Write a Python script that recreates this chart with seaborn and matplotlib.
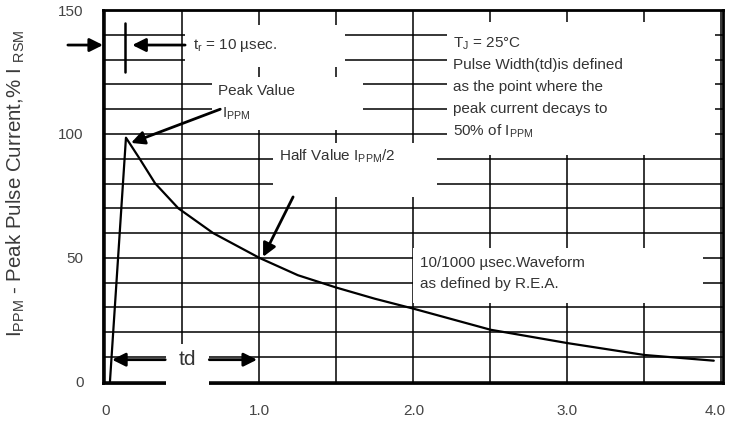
import matplotlib.pyplot as plt
import seaborn as sns
import pandas as pd
from matplotlib.patches import Rectangle
from matplotlib.transforms import ScaledTranslation

# 10/1000 usec pulse waveform
time_ms = [0.03, 0.134, 0.221, 0.323, 0.474, 0.70, 1.0, 1.25, 1.5, 1.75, 2.0, 2.5, 3.0, 3.5, 3.95]
current_pct = [0, 98.5, 90.2, 80.1, 70, 60, 50, 43, 38, 33.5, 29.5, 21, 15.6, 10.8, 8.5]

x_ticks = [0, 1, 2, 3, 4]
x_labels = ['0', '1.0', '2.0', '3.0', '4.0']
y_ticks = [0, 50, 100, 150]
y_labels = ['0', '50', '100', '150']


def make_pulse_chart():
    sns.set_style('white')
    plt.rcParams['font.family'] = ['Liberation Sans', 'DejaVu Sans']
    plt.rcParams['mathtext.fontset'] = 'custom'
    plt.rcParams['mathtext.rm'] = 'Liberation Sans'

    df = pd.DataFrame({'t': time_ms, 'i': current_pct})

    fig, ax = plt.subplots(figsize=(7.29, 4.21), dpi=100)
    fig.subplots_adjust(left=0.1413, right=0.9918, top=0.976, bottom=0.0903)

    sns.lineplot(data=df, x='t', y='i', color='black', lw=1.6, ax=ax, zorder=2)

    ax.set_xlim(-0.015, 4.01)
    ax.set_ylim(-0.5, 150)

    # grid every 0.5 / 10, labels only on the majors
    ax.set_xticks(x_ticks)
    ax.set_xticklabels(x_labels)
    ax.set_xticks([i * 0.5 for i in range(9)], minor=True)
    ax.set_yticks(y_ticks)
    ax.set_yticklabels(y_labels)
    ax.set_yticks(list(range(0, 151, 10)), minor=True)
    ax.set_axisbelow(True)
    ax.grid(which='both', color='black', lw=1.1)
    ax.tick_params(which='both', length=0)
    ax.tick_params(axis='x', pad=15, labelsize=11, labelcolor='#444444')
    ax.tick_params(axis='y', pad=14, labelsize=11, labelcolor='#444444')

    last = ax.get_xticklabels()[-1]
    last.set_transform(last.get_transform() + ScaledTranslation(-6 / 100, 0, fig.dpi_scale_trans))

    for sp in ax.spines.values():
        sp.set_visible(True)
        sp.set_color('black')
        sp.set_linewidth(2.0)

    ax.set_xlabel('')
    ax.set_ylabel(r'$\mathregular{I_{PPM}}$ - Peak Pulse Current,% I $\mathregular{_{RSM}}$',
                  fontsize=14.8, color='#3a3a3a')
    ax.yaxis.set_label_coords(-0.122, 0.535)

    # white blanks behind the notes, like in the original sheet
    blanks = [(0.518, 127, 1.038, 17), (0.693, 101.6, 0.98, 21.4),
              (2.219, 91.5, 1.74, 53.7), (1.089, 74.6, 1.065, 21.8),
              (2.0, 31.9, 1.88, 22.1)]
    for x0, y0, w, h in blanks:
        ax.add_patch(Rectangle((x0, y0), w, h, facecolor='white', edgecolor='none', zorder=1))
    ax.add_patch(Rectangle((0.394, -1.6), 0.279, 16.9, facecolor='white', edgecolor='none',
                           zorder=2.6, clip_on=False))

    arrow = dict(arrowstyle='-|>', color='black', lw=2, mutation_scale=20, shrinkA=0, shrinkB=0)
    fs = 11
    tc = '#333333'

    # rise time marker
    ax.annotate('', xy=(-0.015, 135.9), xytext=(-0.243, 135.9), arrowprops=arrow,
                annotation_clip=False)
    ax.annotate('', xy=(0.175, 135.9), xytext=(0.518, 135.9), arrowprops=arrow)
    ax.plot([0.129, 0.129], [125, 144.8], color='black', lw=1.8, zorder=3)
    ax.text(0.57, 135.9, r't$\mathregular{_r}$ = 10 µsec.', fontsize=fs, va='center', color=tc)

    # peak value
    ax.text(0.73, 117.5, 'Peak Value', fontsize=fs, va='center', color=tc)
    ax.text(0.755, 108.3, r'I$\mathregular{_{PPM}}$', fontsize=fs, va='center', color=tc)
    ax.annotate('', xy=(0.167, 96.4), xytext=(0.746, 110), arrowprops=arrow)

    # half value
    ax.text(1.13, 90.8, r'Half Value I$\mathregular{_{PPM}}$/2', fontsize=fs, va='center', color=tc)
    ax.annotate('', xy=(1.024, 50.4), xytext=(1.219, 74.6), arrowprops=arrow)

    # conditions
    notes = ['T$\\mathregular{_J}$ = 25°C', 'Pulse Width(td)is defined',
             'as the point where the', 'peak current decays to',
             '50% of I$\\mathregular{_{PPM}}$']
    for k, line in enumerate(notes):
        ax.text(2.26, 136.6 - k * 8.85, line, fontsize=fs, va='center', color=tc)

    ax.text(2.04, 48, '10/1000 µsec.Waveform', fontsize=fs, va='center', color=tc)
    ax.text(2.04, 39.6, 'as defined by R.E.A.', fontsize=fs, va='center', color=tc)

    # pulse width
    ax.annotate('', xy=(0.044, 8.9), xytext=(0.389, 8.9), arrowprops=arrow)
    ax.annotate('', xy=(0.985, 8.9), xytext=(0.675, 8.9), arrowprops=arrow)
    ax.text(0.533, 8.9, 'td', fontsize=15, ha='center', va='center', color=tc, zorder=3)

    plt.savefig('out.png', dpi=100)


if __name__ == '__main__':
    make_pulse_chart()
